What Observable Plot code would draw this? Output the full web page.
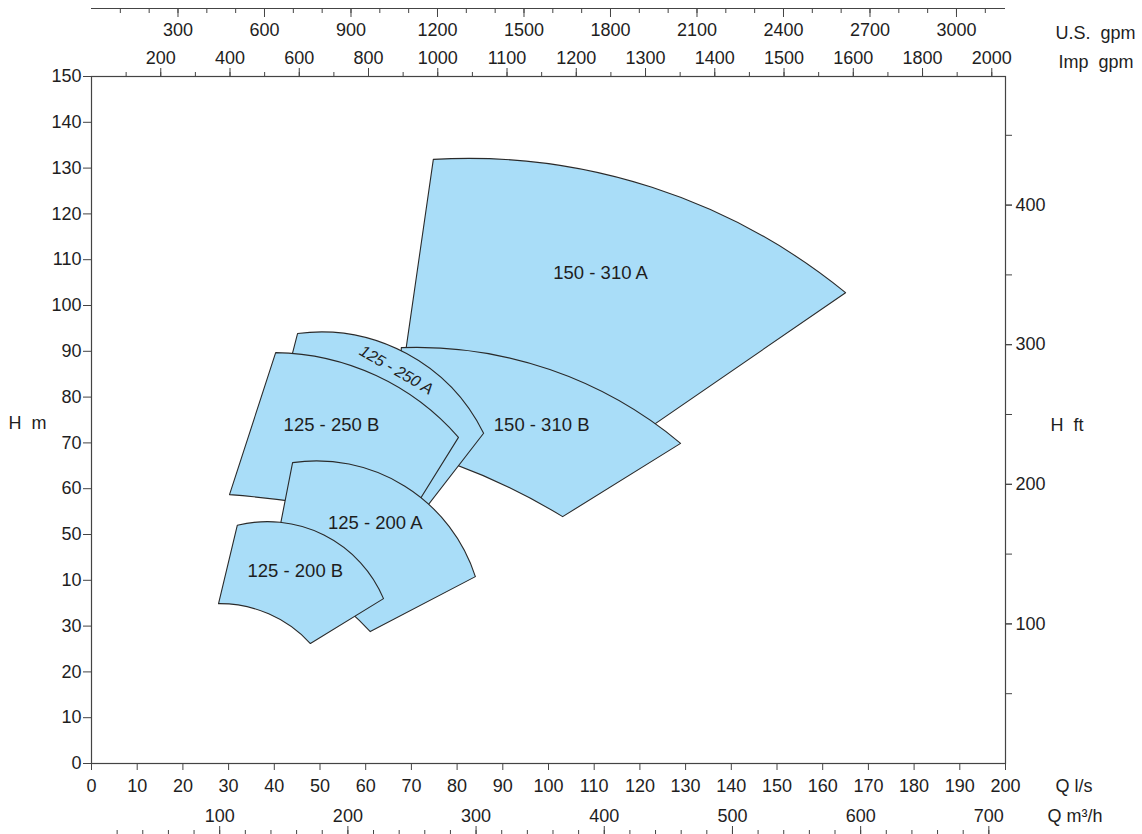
<!DOCTYPE html>
<html><head><meta charset="utf-8">
<script src="https://cdn.jsdelivr.net/npm/d3@7"></script>
<script src="https://cdn.jsdelivr.net/npm/@observablehq/plot@0.6"></script>
<style>body{margin:0;background:#fff;} svg{display:block}</style>
</head><body><div id="chart"></div>
<script>
// ---------- data ----------
const sectorNames = ["150 - 310 A", "150 - 310 B", "125 - 250 A", "125 - 250 B", "125 - 200 A", "125 - 200 B"];
// corner / arc points in order: left-bottom, left-top, top-arc-middle, right-top, right-bottom, bottom-arc-middle
const sectorQ = [
  [67.2, 74.8, 120.1, 165.0, 108.5, 87.3],
  [66.5, 67.8, 98.2, 128.9, 103.1, 85.1],
  [37.4, 45.1, 67.6, 85.8, 70.2, 53.4],
  [30.2, 40.3, 60.2, 80.3, 68.7, 45.7],
  [39.8, 44.0, 68.0, 84.0, 61.0, 51.0],
  [27.8, 31.9, 53.0, 63.9, 47.9, 38.5]
];
const sectorH = [
  [79.3, 131.9, 126.6, 102.8, 64.0, 73.1],
  [69.4, 90.8, 86.7, 69.9, 53.9, 63.1],
  [64.0, 93.9, 90.2, 72.1, 52.0, 60.0],
  [58.7, 89.7, 85.6, 71.2, 52.6, 57.0],
  [44.3, 65.7, 60.9, 40.8, 28.8, 37.6],
  [34.9, 52.0, 48.7, 36.0, 26.2, 32.8]
];
const labelQ = [111.4, 98.5, 66.7, 52.5, 62.1, 44.6];
const labelH = [107.0, 74.0, 85.9, 74.0, 52.4, 42.1];
const labelAngle = [0, 0, 30, 0, 0, 0];

const hTicks = [0, 10, 20, 30, 40, 50, 60, 70, 80, 90, 100, 110, 120, 130, 140, 150];
const hTickLabels = ["0", "10", "20", "30", "10", "50", "60", "70", "80", "90", "100", "110", "120", "130", "140", "150"];
const qTicks = [0, 10, 20, 30, 40, 50, 60, 70, 80, 90, 100, 110, 120, 130, 140, 150, 160, 170, 180, 190, 200];
const m3hTicks = [100, 200, 300, 400, 500, 600, 700];
const usGpmTicks = [300, 600, 900, 1200, 1500, 1800, 2100, 2400, 2700, 3000];
const impGpmTicks = [200, 400, 600, 800, 1000, 1200, 1400, 1600, 1800, 2000, 2200, 2400, 2600];
const impGpmTickLabels = ["200", "400", "600", "800", "1000", "1100", "1200", "1300", "1400", "1500", "1600", "1800", "2000"];
const ftTicks = [100, 200, 300, 400];

const m3hMinor = d3.range(20, 701, 20);
const usGpmMinor = d3.range(100, 3101, 100);
const impGpmMinor = d3.range(100, 2601, 100);
const ftMinor = d3.range(50, 451, 50);

const LS_TO_USGPM = 15.850, LS_TO_IMPGPM = 13.198, M_TO_FT = 3.2808, LS_TO_M3H = 3.565;

// ---------- helpers ----------
function arcThrough(ctx, a, m, b) {
  const ax = a[0], ay = a[1], bx = m[0], by = m[1], cx = b[0], cy = b[1];
  const d = 2 * (ax * (by - cy) + bx * (cy - ay) + cx * (ay - by));
  if (Math.abs(d) < 1e-9) { ctx.lineTo(cx, cy); return; }
  const A = ax * ax + ay * ay, B = bx * bx + by * by, C = cx * cx + cy * cy;
  const ux = (A * (by - cy) + B * (cy - ay) + C * (ay - by)) / d;
  const uy = (A * (cx - bx) + B * (ax - cx) + C * (bx - ax)) / d;
  const r = Math.hypot(ax - ux, ay - uy);
  const a0 = Math.atan2(ay - uy, ax - ux), a1 = Math.atan2(cy - uy, cx - ux);
  const cross = (bx - ax) * (cy - ay) - (by - ay) * (cx - ax);
  ctx.arc(ux, uy, r, a0, a1, cross < 0);
}
function sectorCurve(context) {
  let pts = [];
  return {
    areaStart() {}, areaEnd() {},
    lineStart() { pts = []; },
    point(x, y) { pts.push([+x, +y]); },
    lineEnd() {
      if (pts.length < 6) return;
      const [lb, lt, tm, rt, rb, bm] = pts;
      context.moveTo(lb[0], lb[1]);
      context.lineTo(lt[0], lt[1]);
      arcThrough(context, lt, tm, rt);
      context.lineTo(rb[0], rb[1]);
      arcThrough(context, rb, bm, lb);
      context.closePath();
    }
  };
}

const sectors = sectorNames.map((name, i) => sectorQ[i].map((q, j) => ({name, q, h: sectorH[i][j]})));
const labels = sectorNames.map((name, i) => ({name, q: labelQ[i], h: labelH[i], angle: labelAngle[i]}));

const hLabelMap = new Map(hTicks.map((v, i) => [v, hTickLabels[i]]));
const impLabelMap = new Map(impGpmTicks.map((v, i) => [v / LS_TO_IMPGPM, impGpmTickLabels[i]]));
const usLabelMap = new Map(usGpmTicks.map(v => [v / LS_TO_USGPM, String(v)]));
const m3hLabelMap = new Map(m3hTicks.map(v => [v / LS_TO_M3H, String(v)]));
const ftLabelMap = new Map(ftTicks.map(v => [v / M_TO_FT, String(v)]));

const axisColor = "#444";
const fillColor = "#a9ddf8";
const textColor = "#1e1e1e";
const font = "'Liberation Sans', Arial, Helvetica, sans-serif";

const title = (txt, anchor, dx, dy) =>
  Plot.text([txt], {text: d => d, frameAnchor: anchor, dx, dy, textAnchor: "start", lineAnchor: "middle", fill: textColor});

const chart = Plot.plot({
  width: 1142, height: 834,
  marginLeft: 91, marginRight: 137, marginTop: 76, marginBottom: 71,
  x: {domain: [0, 200]},
  y: {domain: [0, 150]},
  style: {fontFamily: font, fontSize: "18px", color: textColor, background: "#fff"},
  marks: [
    ...sectors.map(s => Plot.line(s, {x: "q", y: "h", curve: sectorCurve, fill: fillColor, stroke: "#2a2a2a", strokeWidth: 1.1})),
    Plot.text(labels.filter(d => d.angle === 0), {x: "q", y: "h", text: "name", fill: textColor, fontSize: 18.5}),
    Plot.text(labels.filter(d => d.angle !== 0), {x: "q", y: "h", text: "name", rotate: 30, fill: textColor, fontSize: 16, fontStyle: "italic"}),
    Plot.frame({stroke: axisColor, strokeWidth: 1.2}),
    Plot.ruleY([150], {dy: -68, stroke: axisColor, strokeWidth: 1.2}),
    // left H m axis
    Plot.axisY(hTicks, {anchor: "left", tickSize: 8, tickPadding: 2, tickFormat: d => hLabelMap.get(d), label: null, stroke: axisColor}),
    // right H ft axis
    Plot.axisY(ftMinor.map(f => f / M_TO_FT), {anchor: "right", tickSize: 6, tickFormat: () => "", label: null, stroke: axisColor}),
    Plot.axisY(ftTicks.map(f => f / M_TO_FT), {anchor: "right", tickSize: 6, tickPadding: 4, tickFormat: d => ftLabelMap.get(d), label: null, stroke: axisColor}),
    // bottom Q l/s axis
    Plot.axisX(qTicks, {anchor: "bottom", tickSize: 7, tickPadding: 9, label: null, stroke: axisColor}),
    // bottom Q m3/h axis
    Plot.axisX(m3hMinor.map(m => m / LS_TO_M3H), {anchor: "top", dy: 758, tickSize: 5, tickFormat: () => "", label: null, stroke: axisColor}),
    Plot.axisX(m3hTicks.map(m => m / LS_TO_M3H), {anchor: "top", dy: 758, tickSize: 9, tickPadding: 4, tickFormat: d => m3hLabelMap.get(d), label: null, stroke: axisColor}),
    // top US gpm axis
    Plot.axisX(usGpmMinor.map(g => g / LS_TO_USGPM), {anchor: "bottom", dy: -755, tickSize: 5, tickFormat: () => "", label: null, stroke: axisColor}),
    Plot.axisX(usGpmTicks.map(g => g / LS_TO_USGPM), {anchor: "bottom", dy: -755, tickSize: 9, tickPadding: 6, tickFormat: d => usLabelMap.get(d), label: null, stroke: axisColor}),
    // top Imp gpm axis
    Plot.axisX(impGpmMinor.map(g => g / LS_TO_IMPGPM), {anchor: "top", tickSize: 5, tickFormat: () => "", label: null, stroke: axisColor}),
    Plot.axisX(impGpmTicks.map(g => g / LS_TO_IMPGPM), {anchor: "top", tickSize: 9, tickPadding: 4, tickFormat: d => impLabelMap.get(d), label: null, stroke: axisColor}),
    // axis titles
    title("H\u00a0\u00a0m", "left", -83, 3),
    title("H\u00a0\u00a0ft", "right", 45, 5),
    title("Q\u00a0l/s", "bottom-right", 50, 23),
    title("Q\u00a0m³/h", "bottom-right", 42, 53),
    title("U.S.\u00a0\u00a0gpm", "top-right", 50, -43),
    title("Imp\u00a0\u00a0gpm", "top-right", 53, -14)
  ]
});
document.getElementById("chart").appendChild(chart);
</script></body></html>
